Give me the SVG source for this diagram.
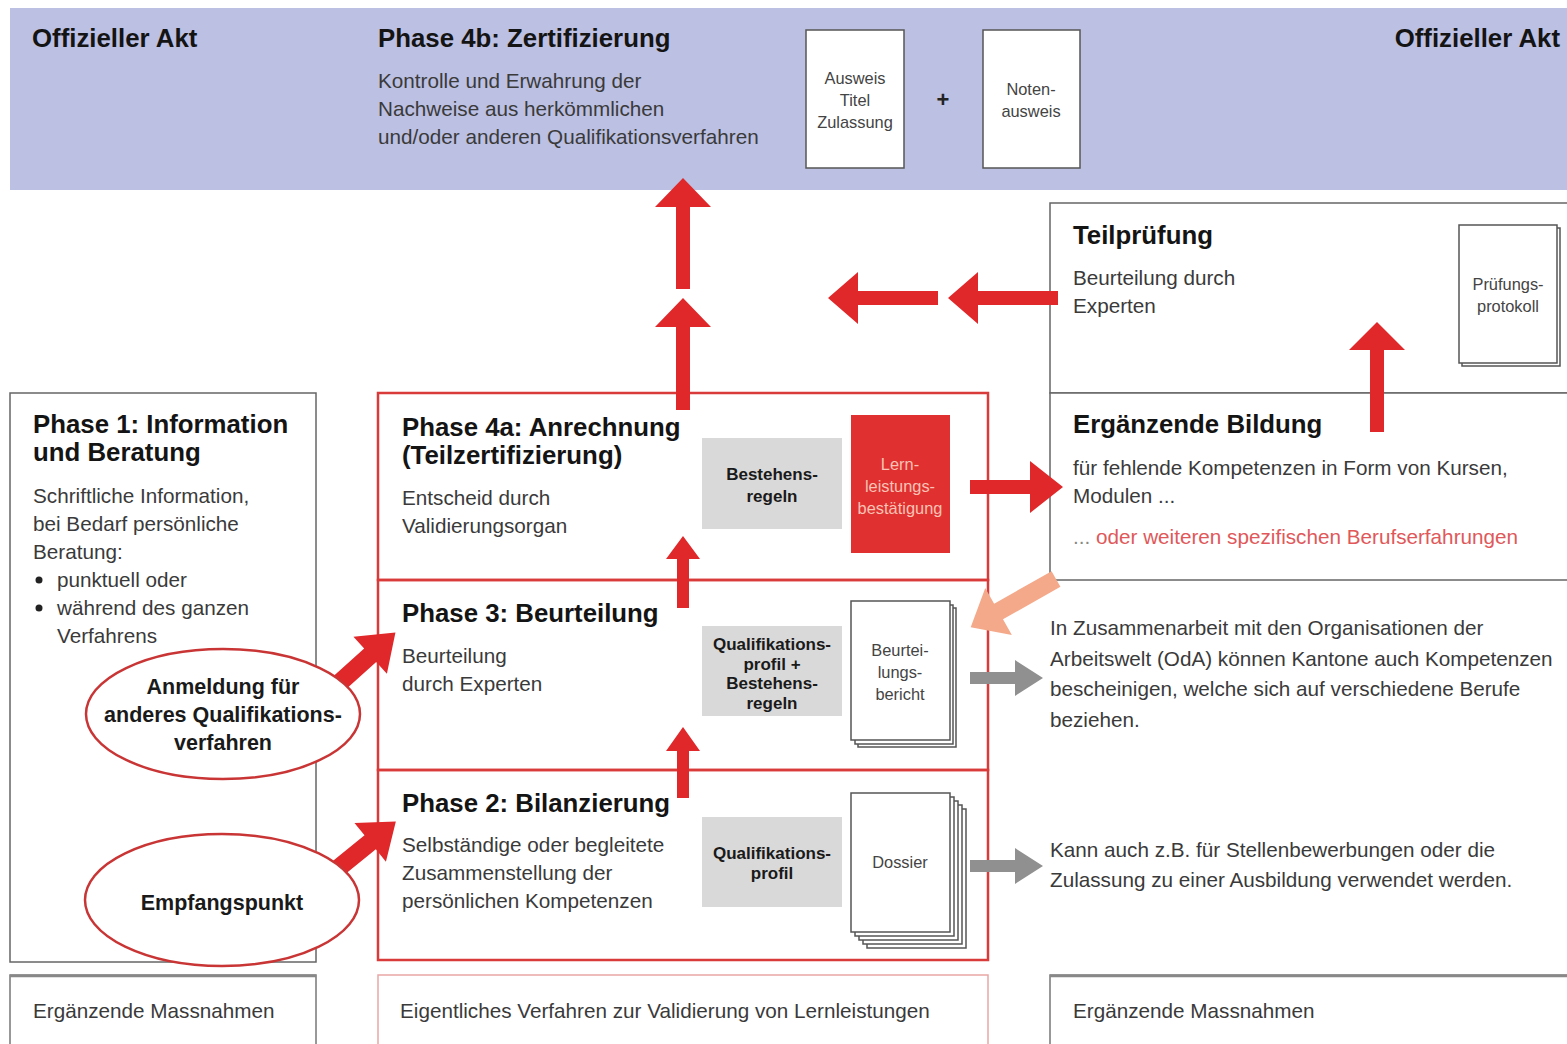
<svg xmlns="http://www.w3.org/2000/svg" width="1567" height="1044" viewBox="0 0 1567 1044">
<style>
text{font-family:"Liberation Sans",Arial,sans-serif;}
.h{font-size:25.8px;font-weight:bold;fill:#141414;}
.b{font-size:20.7px;fill:#3a3a3a;}
.s{font-size:16.4px;fill:#444;text-anchor:middle;}
.sb{font-size:17px;font-weight:bold;fill:#1a1a1a;text-anchor:middle;}
.eb{font-size:21.5px;font-weight:bold;fill:#1a1a1a;text-anchor:middle;}
.box{fill:#fff;stroke:#666;stroke-width:1.5;}
.page{fill:#fff;stroke:#555;stroke-width:1.5;}
.grey{fill:#d9d9d9;}
.red{fill:#e0282a;}
.gra{fill:#909090;}
.peach{fill:#f4a98a;}
.redline{fill:none;stroke:#d93a3a;stroke-width:2.5;}
.ell{fill:#fff;stroke:#c93535;stroke-width:2.5;}
.lt{fill:#f9c3b5;}
</style>
<rect x="0" y="0" width="1567" height="1044" fill="#fff"/>

<g id="banner">
<rect x="10" y="8" width="1580" height="182" fill="#bcc0e3"/>
<text class="h" x="32" y="47">Offizieller Akt</text>
<text class="h" x="1560" y="47" text-anchor="end">Offizieller Akt</text>
<text class="h" x="378" y="47">Phase 4b: Zertifizierung</text>
<text class="b" x="378" y="88">Kontrolle und Erwahrung der</text>
<text class="b" x="378" y="116">Nachweise aus herkömmlichen</text>
<text class="b" x="378" y="144">und/oder anderen Qualifikationsverfahren</text>
</g>
<g id="doc-ausweis">
<rect class="page" x="806" y="30" width="98" height="138"/>
<text class="s" x="855" y="84">Ausweis</text>
<text class="s" x="855" y="106">Titel</text>
<text class="s" x="855" y="128">Zulassung</text>
</g>
<text x="943" y="107" font-size="22" font-weight="bold" fill="#222" text-anchor="middle">+</text>
<g id="doc-notenausweis">
<rect class="page" x="983" y="30" width="97" height="138"/>
<text class="s" x="1031" y="95">Noten-</text>
<text class="s" x="1031" y="117">ausweis</text>
</g>

<g id="teilpruefung">
<rect class="box" x="1050" y="203" width="530" height="190"/>
<text class="h" x="1073" y="244">Teilprüfung</text>
<text class="b" x="1073" y="285">Beurteilung durch</text>
<text class="b" x="1073" y="313">Experten</text>
<rect class="page" x="1462" y="228" width="98" height="138"/>
<rect class="page" x="1459" y="225" width="98" height="138"/>
<text class="s" x="1508" y="290">Prüfungs-</text>
<text class="s" x="1508" y="312">protokoll</text>
</g>

<g id="ergaenzende-bildung">
<rect class="box" x="1050" y="393" width="530" height="187"/>
<text class="h" x="1073" y="433">Ergänzende Bildung</text>
<text class="b" x="1073" y="475">für fehlende Kompetenzen in Form von Kursen,</text>
<text class="b" x="1073" y="503">Modulen ...</text>
<text class="b" x="1073" y="544"><tspan fill="#888">... </tspan><tspan fill="#e0585a">oder weiteren spezifischen Berufserfahrungen</tspan></text>
</g>

<g id="phase1">
<rect class="box" x="10" y="393" width="306" height="569"/>
<text class="h" x="33" y="433">Phase 1: Information</text>
<text class="h" x="33" y="461">und Beratung</text>
<text class="b" x="33" y="503">Schriftliche Information,</text>
<text class="b" x="33" y="531">bei Bedarf persönliche</text>
<text class="b" x="33" y="559">Beratung:</text>
<circle cx="39" cy="580" r="3.5" fill="#222"/>
<text class="b" x="57" y="587">punktuell oder</text>
<circle cx="39" cy="608" r="3.5" fill="#222"/>
<text class="b" x="57" y="615">während des ganzen</text>
<text class="b" x="57" y="643">Verfahrens</text>
</g>

<g id="phase4a">
<rect class="redline" x="378" y="393" width="610" height="187"/>
<text class="h" x="402" y="436">Phase 4a: Anrechnung</text>
<text class="h" x="402" y="464">(Teilzertifizierung)</text>
<text class="b" x="402" y="505">Entscheid durch</text>
<text class="b" x="402" y="533">Validierungsorgan</text>
<rect class="grey" x="702" y="438" width="140" height="91"/>
<text class="sb" x="772" y="480">Bestehens-</text>
<text class="sb" x="772" y="502">regeln</text>
<rect x="851" y="415" width="99" height="138" fill="#e03030"/>
<text class="s lt" x="900" y="470" style="fill:#f9c3b5">Lern-</text>
<text class="s lt" x="900" y="492" style="fill:#f9c3b5">leistungs-</text>
<text class="s lt" x="900" y="514" style="fill:#f9c3b5">bestätigung</text>
</g>

<g id="phase3">
<rect class="redline" x="378" y="580" width="610" height="190"/>
<text class="h" x="402" y="622">Phase 3: Beurteilung</text>
<text class="b" x="402" y="663">Beurteilung</text>
<text class="b" x="402" y="691">durch Experten</text>
<rect class="grey" x="702" y="626" width="140" height="90"/>
<text class="sb" x="772" y="650">Qualifikations-</text>
<text class="sb" x="772" y="670">profil +</text>
<text class="sb" x="772" y="689">Bestehens-</text>
<text class="sb" x="772" y="709">regeln</text>
<rect class="page" x="858" y="608" width="98" height="139"/>
<rect class="page" x="855" y="605" width="98" height="139"/>
<rect class="page" x="851" y="601" width="99" height="139"/>
<text class="s" x="900" y="656">Beurtei-</text>
<text class="s" x="900" y="678">lungs-</text>
<text class="s" x="900" y="700">bericht</text>
</g>

<g id="phase2">
<rect class="redline" x="378" y="770" width="610" height="190"/>
<text class="h" x="402" y="812">Phase 2: Bilanzierung</text>
<text class="b" x="402" y="852">Selbständige oder begleitete</text>
<text class="b" x="402" y="880">Zusammenstellung der</text>
<text class="b" x="402" y="908">persönlichen Kompetenzen</text>
<rect class="grey" x="702" y="817" width="140" height="90"/>
<text class="sb" x="772" y="859">Qualifikations-</text>
<text class="sb" x="772" y="879">profil</text>
<rect class="page" x="867" y="809" width="99" height="139"/>
<rect class="page" x="863" y="805" width="99" height="139"/>
<rect class="page" x="859" y="801" width="99" height="139"/>
<rect class="page" x="855" y="797" width="99" height="139"/>
<rect class="page" x="851" y="793" width="99" height="139"/>
<text class="s" x="900" y="868">Dossier</text>
</g>

<g id="note-oda">
<text class="b" x="1050" y="635">In Zusammenarbeit mit den Organisationen der</text>
<text class="b" x="1050" y="666">Arbeitswelt (OdA) können Kantone auch Kompetenzen</text>
<text class="b" x="1050" y="696">bescheinigen, welche sich auf verschiedene Berufe</text>
<text class="b" x="1050" y="727">beziehen.</text>
</g>
<g id="note-bewerbung">
<text class="b" x="1050" y="857">Kann auch z.B. für Stellenbewerbungen oder die</text>
<text class="b" x="1050" y="887">Zulassung zu einer Ausbildung verwendet werden.</text>
</g>

<g id="connectors">
<polygon class="red" points="683,178 711,207 690,207 690,289 676,289 676,207 655,207"/>
<polygon class="red" points="683,298 711,327 690,327 690,410 676,410 676,327 655,327"/>
<polygon class="red" points="683,536 700,559 689,559 689,608 677,608 677,559 666,559"/>
<polygon class="red" points="683,727 700,751 689,751 689,798 677,798 677,751 666,751"/>
<polygon class="red" points="1377,322 1405,350 1384,350 1384,432 1370,432 1370,350 1349,350"/>
<polygon class="red" points="948,298 978,272 978,291 1058,291 1058,305 978,305 978,324"/>
<polygon class="red" points="828,298 858,272 858,291 938,291 938,305 858,305 858,324"/>
<polygon class="red" points="1063,487 1030,461 1030,480 970,480 970,494 1030,494 1030,513"/>
<polygon class="gra" points="1043,678 1015,660 1015,672 970,672 970,684 1015,684 1015,696"/>
<polygon class="gra" points="1043,866 1015,848 1015,860 970,860 970,872 1015,872 1015,884"/>
<polygon class="peach" transform="translate(1056,579) rotate(150.5)" points="0,-9 66,-9 66,-27 98,0 66,27 66,9 0,9"/>
</g>

<g id="ellipse-anmeldung">
<polygon class="red" transform="translate(336,686) rotate(-42)" points="0,-9 46,-9 46,-25 80,0 46,25 46,9 0,9"/>
<ellipse class="ell" cx="223" cy="714" rx="137" ry="65"/>
<text class="eb" x="223" y="694">Anmeldung für</text>
<text class="eb" x="223" y="722">anderes Qualifikations-</text>
<text class="eb" x="223" y="750">verfahren</text>
</g>
<g id="ellipse-empfang">
<polygon class="red" transform="translate(336,870) rotate(-39)" points="0,-9 44,-9 44,-25 77,0 44,25 44,9 0,9"/>
<ellipse class="ell" cx="222" cy="900" rx="137" ry="66"/>
<text class="eb" x="222" y="910">Empfangspunkt</text>
</g>

<g id="bottom-left">
<rect x="10" y="975" width="306" height="80" fill="#fff" stroke="#777" stroke-width="1.5"/>
<line x1="10" y1="976" x2="316" y2="976" stroke="#888" stroke-width="2.5"/>
<text class="b" x="33" y="1018">Ergänzende Massnahmen</text>
</g>
<g id="bottom-middle">
<rect x="378" y="975" width="610" height="80" fill="#fff" stroke="#eaa6a6" stroke-width="1.5"/>
<text class="b" x="400" y="1018">Eigentliches Verfahren zur Validierung von Lernleistungen</text>
</g>
<g id="bottom-right">
<rect x="1050" y="975" width="530" height="80" fill="#fff" stroke="#777" stroke-width="1.5"/>
<line x1="1050" y1="976" x2="1567" y2="976" stroke="#888" stroke-width="2.5"/>
<text class="b" x="1073" y="1018">Ergänzende Massnahmen</text>
</g>
</svg>
